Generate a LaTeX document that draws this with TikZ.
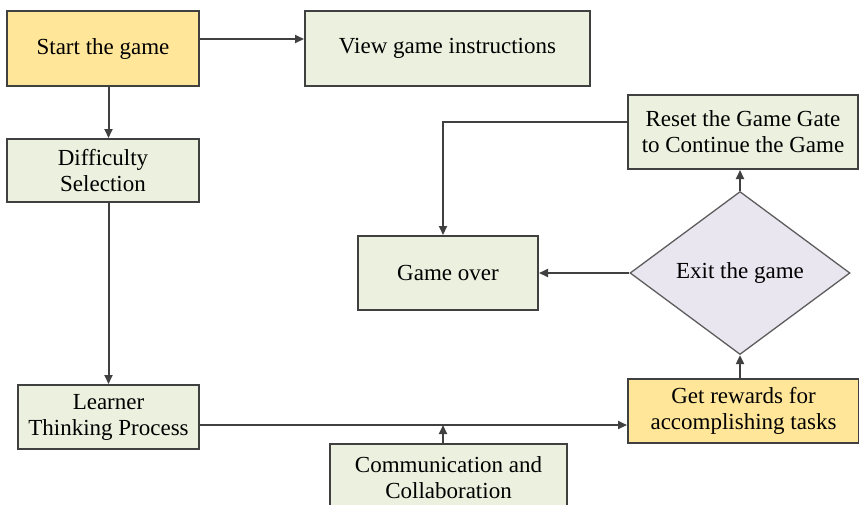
\documentclass[tikz,border=0pt]{standalone}
\usepackage{fontspec}
\setmainfont{Liberation Serif}
\usetikzlibrary{calc,arrows.meta,shapes.geometric,positioning}
\definecolor{boxgreen}{HTML}{EBF1DE}
\definecolor{boxorange}{HTML}{FFE699}
\definecolor{boxlilac}{HTML}{E9E6F0}
\definecolor{edgegrey}{HTML}{404040}

\begin{document}
\begin{tikzpicture}[x=1pt,y=-1pt]

\tikzset{greenbox/.style={draw=edgegrey,line width=2pt,fill=boxgreen,align=center,inner sep=0pt,font=\fontsize{23}{26}\selectfont},
orangebox/.style={greenbox,fill=boxorange},
decision/.style={shape=diamond,draw=edgegrey!85,line width=1.3pt,fill=boxlilac,inner sep=0pt,font=\fontsize{23}{26}\selectfont,minimum width=220pt,minimum height=163pt},
arr/.style={draw=edgegrey,line width=2pt,-{Triangle[length=9pt,width=8pt]}}}

\useasboundingbox (0,0) rectangle (859,504);
\clip (0,0) rectangle (859,504);

% left column
\node (start) [orangebox,minimum width=192pt,minimum height=75pt] at (103,48.5) {Start the game};
\node (instr) [greenbox,right=104pt of start,minimum width=285pt,minimum height=75pt] {View game instructions};
\node (diff) [greenbox,below=51pt of start,minimum width=192pt,minimum height=63pt] {Difficulty\\Selection};
\node (learner) [greenbox,minimum width=181pt,minimum height=64pt] at (108.5,417) {Learner\\Thinking Process};
\node (comm) [greenbox,minimum width=237pt,minimum height=68pt] at (448.5,478) {Communication and\\Collaboration};

% right side
\node (gameover) [greenbox,minimum width=180pt,minimum height=74pt] at (448,273) {Game over};
\node (exit) [decision] at (740,273) {Exit the game};
\node (reset) [greenbox,minimum width=230pt,minimum height=74pt] at (743,132) {Reset the Game Gate\\to Continue the Game};
\node (rewards) [orangebox,minimum width=231pt,minimum height=64pt] at (743.5,411) {Get rewards for\\accomplishing tasks};

\coordinate (join) at (443,425);

% Edges
\draw[arr] ([yshift=9.5pt]start.east) -- ([yshift=9.5pt]instr.west);
\draw[arr] (start.south -| learner.north) -- (diff.north -| learner.north);
\draw[arr] (diff.south -| learner.north) -- (learner.north);
\draw[arr] (learner.east |- join) -- (rewards.west |- join);
\draw[arr] (comm.north -| join) -- (join);
\draw[arr] (rewards.north -| exit.south) -- (exit.south);
\draw[arr] (exit.west) -- (gameover.east);
\draw[arr] (exit.north) -- (reset.south -| exit.north);
\draw[arr] ([yshift=10pt]reset.west) -| (gameover.north -| join);

\end{tikzpicture}
\end{document}
